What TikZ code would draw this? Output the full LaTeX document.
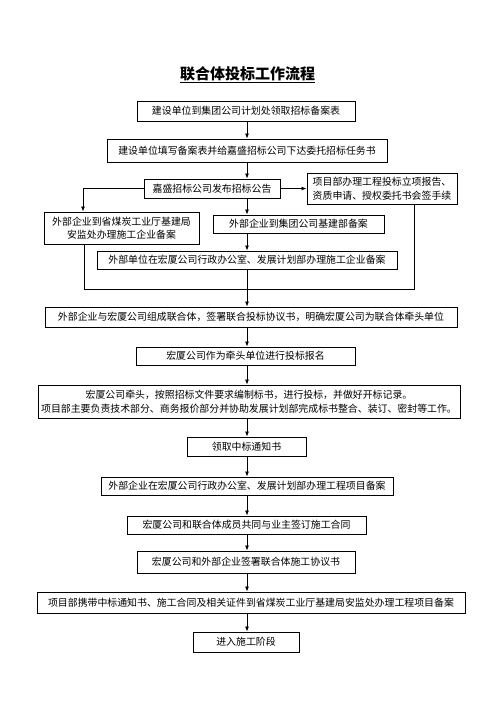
\documentclass[tikz,border=0pt]{standalone}
\usepackage{fontspec}
\setmainfont{Noto Sans CJK SC}
\usetikzlibrary{arrows.meta}
\begin{document}
\begin{tikzpicture}[x=1pt,y=-1pt,
  box/.style={draw,line width=0.9pt,inner sep=0pt,font=\fontsize{9.9}{13.5}\selectfont,align=center},
  arr/.style={line width=0.8pt,-{Latex[length=5pt,width=4pt]}},
  ln/.style={line width=0.8pt}]
\useasboundingbox (0,0) rectangle (496,702);
\node[font=\fontsize{15}{18}\selectfont\bfseries] (title) at (247.5,75) {\underline{联合体投标工作流程}};
\node[box,minimum width=218pt,minimum height=20pt] (b1) at (246,111) {建设单位到集团公司计划处领取招标备案表};
\node[box,minimum width=280pt,minimum height=23pt] (b2) at (247,150.5) {建设单位填写备案表并给嘉盛招标公司下达委托招标任务书};
\node[box,minimum width=136pt,minimum height=19pt] (b3) at (212,188.5) {嘉盛招标公司发布招标公告};
\node[box,minimum width=150pt,minimum height=31pt,align=left] (b4) at (382,188.5) {项目部办理工程投标立项报告、\\资质申请、授权委托书会签手续};
\node[box,minimum width=155pt,minimum height=32pt] (b5) at (121.5,228) {外部企业到省煤炭工业厅基建局\\安监处办理施工企业备案};
\node[box,minimum width=171pt,minimum height=18pt] (b6) at (298.5,224) {外部企业到集团公司基建部备案};
\node[box,minimum width=300pt,minimum height=18pt] (b7) at (247,260) {外部单位在宏厦公司行政办公室、发展计划部办理施工企业备案};
\node[box,minimum width=412pt,minimum height=20pt] (b8) at (251,317) {外部企业与宏厦公司组成联合体，签署联合投标协议书，明确宏厦公司为联合体牵头单位};
\node[box,minimum width=219pt,minimum height=18pt] (b9) at (245.5,356) {宏厦公司作为牵头单位进行投标报名};
\node[box,minimum width=422pt,minimum height=33pt] (b10) at (249,401.5) {宏厦公司牵头，按照招标文件要求编制标书，进行投标，并做好开标记录。\\项目部主要负责技术部分、商务报价部分并协助发展计划部完成标书整合、装订、密封等工作。};
\node[box,minimum width=119pt,minimum height=19pt] (b11) at (246.5,446.5) {领取中标通知书};
\node[box,minimum width=292pt,minimum height=18pt] (b12) at (247,486) {外部企业在宏厦公司行政办公室、发展计划部办理工程项目备案};
\node[box,minimum width=239pt,minimum height=18pt] (b13) at (246.5,525) {宏厦公司和联合体成员共同与业主签订施工合同};
\node[box,minimum width=218pt,minimum height=22pt] (b14) at (246,562) {宏厦公司和外部企业签署联合体施工协议书};
\node[box,minimum width=428pt,minimum height=21pt] (b15) at (251,602.5) {项目部携带中标通知书、施工合同及相关证件到省煤炭工业厅基建局安监处办理工程项目备案};
\node[box,minimum width=106pt,minimum height=20pt] (b16) at (246,642) {进入施工阶段};
\coordinate (ax) at (247,0);
\coordinate (lx) at (83,0);
\coordinate (lx2) at (84,0);
\coordinate (rx) at (414,0);
\coordinate (loop) at (414,289);
\draw[arr] (b1.south -| ax) -- (b2.north -| ax);
\draw[arr] (b2.south -| ax) -- (b3.north -| ax);
\draw[arr] (b3.east) -- (b4.west);
\draw[arr] (b3.west) -| (b5.north -| lx);
\draw[arr] (b3.south -| ax) -- (b6.north -| ax);
\draw[arr] (b6.south -| ax) -- (b7.north -| ax);
\draw[ln] (b5.south -| lx2) |- (loop) -- (b4.south -| rx);
\draw[arr] (b7.south -| ax) -- (b8.north -| ax);
\draw[arr] (b8.south -| ax) -- (b9.north -| ax);
\draw[arr] (b9.south -| ax) -- (b10.north -| ax);
\draw[arr] (b10.south -| ax) -- (b11.north -| ax);
\draw[arr] (b11.south -| ax) -- (b12.north -| ax);
\draw[arr] (b12.south -| ax) -- (b13.north -| ax);
\draw[arr] (b13.south -| ax) -- (b14.north -| ax);
\draw[arr] (b14.south -| ax) -- (b15.north -| ax);
\draw[arr] (b15.south -| ax) -- (b16.north -| ax);
\end{tikzpicture}
\end{document}
